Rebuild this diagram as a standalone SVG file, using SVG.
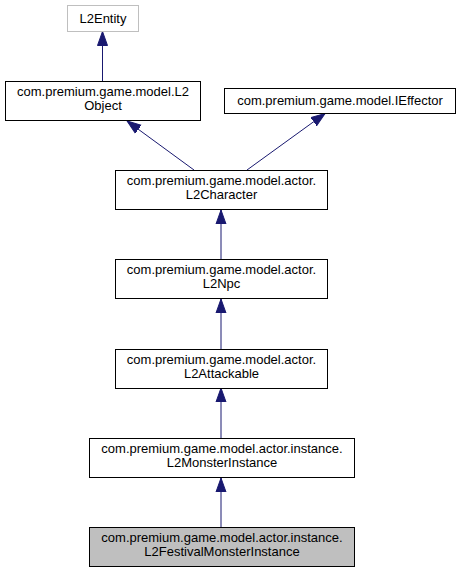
<svg xmlns="http://www.w3.org/2000/svg" width="461" height="573" viewBox="0 0 461 573">
<style>
.box{fill:#ffffff;stroke:#000000;stroke-width:1}
.ext{fill:#ffffff;stroke:#bfbfbf;stroke-width:1}
.cur{fill:#bfbfbf;stroke:#000000;stroke-width:1}
text{font-family:"Liberation Sans",Arial,sans-serif;font-size:13px;fill:#000000;text-anchor:middle}
.edge{fill:none;stroke:#191970;stroke-width:1;marker-end:url(#arr)}
</style>
<defs>
<marker id="arr" markerUnits="userSpaceOnUse" markerWidth="16" markerHeight="12" viewBox="0 -6 16 12" refX="14" refY="0" orient="auto">
<path d="M0,-5 L14,0 L0,5 Z" fill="#191970" stroke="#191970" stroke-width="1"/>
</marker>
</defs>
<rect width="461" height="573" fill="#ffffff"/>
<g id="connectors">
<path class="edge" d="M102.5,81 L102.5,31.5"/>
<path class="edge" d="M194,170 L127,121"/>
<path class="edge" d="M247,170 L325,113.5"/>
<path class="edge" d="M221,259 L221,210"/>
<path class="edge" d="M221,349 L221,299"/>
<path class="edge" d="M221,438 L221,388"/>
<path class="edge" d="M221,527 L221,478"/>
</g>
<g id="L2Entity">
<rect class="ext" x="67.5" y="5.5" width="71" height="26"/>
<text x="103" y="23">L2Entity</text>
</g>
<g id="L2Object">
<rect class="box" x="5.5" y="81.5" width="195" height="39"/>
<text x="103" y="95.5">com.premium.game.model.L2</text>
<text x="103" y="109.5">Object</text>
</g>
<g id="IEffector">
<rect class="box" x="224.5" y="88.5" width="231" height="25"/>
<text x="340" y="105">com.premium.game.model.IEffector</text>
</g>
<g id="L2Character">
<rect class="box" x="115.5" y="170.5" width="212" height="39"/>
<text x="221.5" y="185">com.premium.game.model.actor.</text>
<text x="221.5" y="199">L2Character</text>
</g>
<g id="L2Npc">
<rect class="box" x="115.5" y="259.5" width="212" height="39"/>
<text x="221.5" y="274">com.premium.game.model.actor.</text>
<text x="221.5" y="288">L2Npc</text>
</g>
<g id="L2Attackable">
<rect class="box" x="115.5" y="349.5" width="212" height="39"/>
<text x="221.5" y="364">com.premium.game.model.actor.</text>
<text x="221.5" y="378">L2Attackable</text>
</g>
<g id="L2MonsterInstance">
<rect class="box" x="89.5" y="438.5" width="265" height="39"/>
<text x="222" y="453">com.premium.game.model.actor.instance.</text>
<text x="222" y="467">L2MonsterInstance</text>
</g>
<g id="L2FestivalMonsterInstance">
<rect class="cur" x="89.5" y="527.5" width="265" height="39"/>
<text x="222" y="542">com.premium.game.model.actor.instance.</text>
<text x="222" y="556">L2FestivalMonsterInstance</text>
</g>
</svg>
